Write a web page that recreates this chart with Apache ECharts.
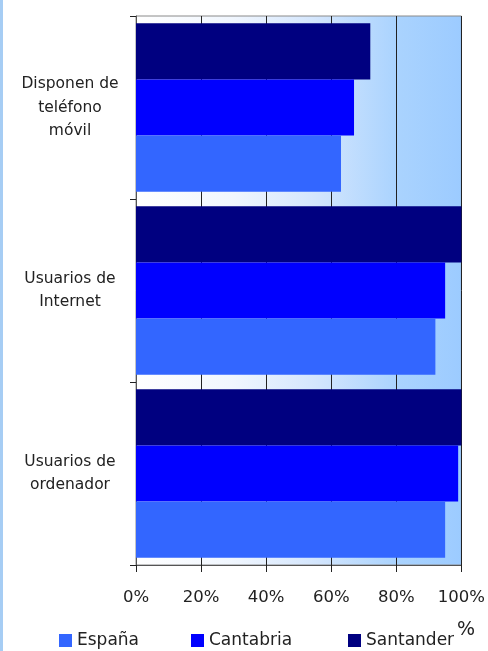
<!DOCTYPE html>
<html>
<head>
<meta charset="utf-8">
<script src="https://cdn.jsdelivr.net/npm/echarts@6/dist/echarts.min.js"></script>
<style>html,body{margin:0;padding:0;background:#fff}#c{width:488px;height:651px}</style>
</head>
<body>
<div id="c"></div>
<script>
const categories = ['Disponen de\nteléfono\nmóvil', 'Usuarios de\nInternet', 'Usuarios de\nordenador'];
const espana = [63, 92, 95];
const cantabria = [67, 95, 99];
const santander = [72, 100, 100];
const xTicks = [0, 20, 40, 60, 80, 100];
const seriesNames = ['España', 'Cantabria', 'Santander'];
const seriesColors = ['#3366FF', '#0000FF', '#000080'];

const FONT = 'DejaVu Sans';
const chart = echarts.init(document.getElementById('c'));
const data = [espana, cantabria, santander];
chart.setOption({
  animation: false,
  textStyle: { fontFamily: FONT },
  grid: {
    left: 136, top: 16, width: 328, height: 549,
    show: true,
    borderColor: '#8a8a8a', borderWidth: 1,
    backgroundColor: {
      type: 'linear', x: 0, y: 0, x2: 1, y2: 0,
      colorStops: [
        { offset: 0, color: '#ffffff' },
        { offset: 0.3, color: '#f0f6fe' },
        { offset: 0.55, color: '#d4e6fd' },
        { offset: 0.8, color: '#aad3fe' },
        { offset: 1, color: '#9ccbff' }
      ]
    }
  },
  xAxis: {
    type: 'value', min: xTicks[0], max: xTicks[xTicks.length - 1], interval: 20,
    axisLine: { show: true, lineStyle: { color: '#555', width: 1 } },
    axisTick: { show: true, length: 7, lineStyle: { color: '#222' } },
    splitLine: { show: true, lineStyle: { color: '#222', width: 1 } },
    axisLabel: { formatter: '{value}%', color: '#222', fontSize: 16.5, margin: 24, fontFamily: FONT }
  },
  yAxis: {
    type: 'category', data: categories, inverse: true,
    axisLine: { show: true, lineStyle: { color: '#555', width: 1 } },
    axisTick: { show: true, length: 6, lineStyle: { color: '#222' } },
    axisLabel: {
      color: '#222', fontSize: 15.5, lineHeight: 23.5, margin: 66, align: 'center', fontFamily: FONT
    }
  },
  legend: seriesNames.map((n, i) => ({
    data: [n], left: [54, 186, 343][i], top: 627,
    itemWidth: 13, itemHeight: 13, icon: 'rect', itemGap: 0,
    textStyle: { fontSize: 17, color: '#222', fontFamily: FONT }
  })),
  graphic: [
    { type: 'rect', shape: { x: 0, y: 0, width: 3, height: 651 }, style: { fill: '#a6cdf4' } },
    { type: 'text', left: 457, top: 621, style: { text: '%', fontSize: 19, fill: '#222', fontFamily: FONT } }
  ],
  series: seriesNames.map((n, i) => ({
    name: n, type: 'bar', data: data[i],
    barGap: '0%', barCategoryGap: '8%',
    itemStyle: { color: seriesColors[i] }
  })).reverse()
});
</script>
</body>
</html>
